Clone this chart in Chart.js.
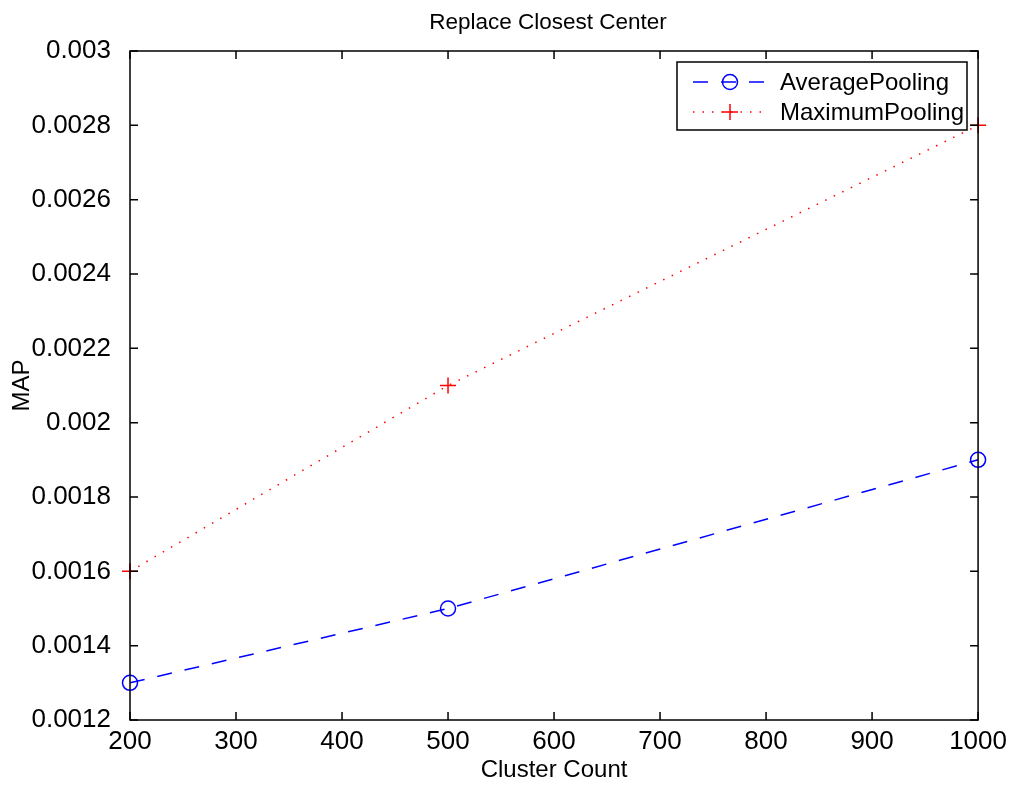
<!DOCTYPE html>
<html>
<head>
<meta charset="utf-8">
<script src="https://cdn.jsdelivr.net/npm/chart.js@4/dist/chart.umd.min.js"></script>
<style>
  html, body { margin:0; padding:0; background:#fff; }
  #wrap { width:1013px; height:787px; }
</style>
</head>
<body>
<div id="wrap"><canvas id="c" width="1013" height="787"></canvas></div>
<script>
// MATLAB-style line plot: MAP vs cluster count

const clusterCounts = [200, 500, 1000];
const averagePooling = [0.0013, 0.0015, 0.0019];
const maximumPooling = [0.0016, 0.0021, 0.0028];
const xTickValues = [200, 300, 400, 500, 600, 700, 800, 900, 1000];
const yTickValues = [0.0012, 0.0014, 0.0016, 0.0018, 0.002, 0.0022, 0.0024, 0.0026, 0.0028, 0.003];

const FONT = "'Liberation Sans', Arial, Helvetica, sans-serif";

function toPoints(xs, ys){
  return xs.map((x,i)=>({x, y:ys[i]}));
}

// frame, inward ticks on all 4 sides, title and legend box
const matlabFrame = {
  id:'matlabFrame',
  afterDraw(chart){
    const ctx = chart.ctx;
    const a = chart.chartArea;
    const xs = chart.scales.x, ys = chart.scales.y;
    const tl = 8;
    ctx.save();
    ctx.strokeStyle = '#000';
    ctx.lineWidth = 1.5;
    ctx.strokeRect(a.left, a.top, a.right-a.left, a.bottom-a.top);
    ctx.beginPath();
    xTickValues.forEach(v=>{
      const px = xs.getPixelForValue(v);
      ctx.moveTo(px, a.bottom); ctx.lineTo(px, a.bottom-tl);
      ctx.moveTo(px, a.top); ctx.lineTo(px, a.top+tl);
    });
    yTickValues.forEach(v=>{
      const py = ys.getPixelForValue(v);
      ctx.moveTo(a.left, py); ctx.lineTo(a.left+tl, py);
      ctx.moveTo(a.right, py); ctx.lineTo(a.right-tl, py);
    });
    ctx.stroke();

    // title
    ctx.fillStyle = '#000';
    ctx.font = '22.5px ' + FONT;
    ctx.textAlign = 'center';
    ctx.textBaseline = 'middle';
    ctx.fillText('Replace Closest Center', 548, 23);

    // legend
    const bx = 677, by = 62, bw = 290, bh = 68;
    ctx.fillStyle = '#fff';
    ctx.fillRect(bx, by, bw, bh);
    ctx.lineWidth = 1.5;
    ctx.strokeStyle = '#000';
    ctx.strokeRect(bx, by, bw, bh);
    chart.data.datasets.forEach((ds,i)=>{
      const yy = 82 + i*30;
      const mx = 730, r = ds.pointRadius;
      ctx.save();
      ctx.strokeStyle = ds.borderColor;
      ctx.lineWidth = ds.borderWidth;
      ctx.setLineDash(ds.borderDash || []);
      ctx.lineDashOffset = ds.legendDashOffset || 0;
      ctx.beginPath();
      ctx.moveTo(693, yy); ctx.lineTo(767, yy);
      ctx.stroke();
      ctx.setLineDash([]);
      ctx.lineWidth = ds.pointBorderWidth;
      ctx.beginPath();
      if (ds.pointStyle === 'circle'){
        ctx.arc(mx, yy, r, 0, Math.PI*2);
      } else {
        ctx.moveTo(mx-r, yy); ctx.lineTo(mx+r, yy);
        ctx.moveTo(mx, yy-r); ctx.lineTo(mx, yy+r);
      }
      ctx.stroke();
      ctx.restore();
      ctx.fillStyle = '#000';
      ctx.font = '24px ' + FONT;
      ctx.textAlign = 'left';
      ctx.textBaseline = 'middle';
      ctx.fillText(ds.label, 780, yy+1);
    });
    ctx.restore();
  }
};

const chart = new Chart(document.getElementById('c'), {
  type:'line',
  data:{
    datasets:[
      {
        label:'AveragePooling',
        data:toPoints(clusterCounts, averagePooling),
        borderColor:'#0000ff',
        borderWidth:1.5,
        borderDash:[15,13],
        legendDashOffset:0,
        pointStyle:'circle',
        pointRadius:7.5,
        pointBorderWidth:1.5,
        pointBorderColor:'#0000ff',
        pointBackgroundColor:'rgba(0,0,0,0)',
        fill:false,
        tension:0,
        clip:false
      },
      {
        label:'MaximumPooling',
        data:toPoints(clusterCounts, maximumPooling),
        borderColor:'#ff0000',
        borderWidth:1.5,
        borderDash:[1.5,8],
        pointStyle:'cross',
        pointRadius:8,
        pointBorderWidth:1.5,
        pointBorderColor:'#ff0000',
        pointBackgroundColor:'rgba(0,0,0,0)',
        fill:false,
        tension:0,
        clip:false
      }
    ]
  },
  options:{
    responsive:false,
    animation:false,
    events:[],
    layout:{ padding:{ top:51, right:34, left:0, bottom:0 } },
    plugins:{
      legend:{ display:false },
      title:{ display:false },
      tooltip:{ enabled:false }
    },
    scales:{
      x:{
        type:'linear',
        min:200, max:1000,
        afterBuildTicks(s){ s.ticks = xTickValues.map(v=>({value:v})); },
        afterFit(s){ s.height = 67; },
        grid:{ display:false, drawTicks:false },
        border:{ display:false },
        ticks:{ color:'#000', font:{ family:FONT, size:26 }, padding:6, maxRotation:0, autoSkip:false,
          callback:v=>String(v) },
        title:{ display:true, text:'Cluster Count', color:'#000', font:{ family:FONT, size:24 }, padding:{top:0, bottom:2} }
      },
      y:{
        type:'linear',
        min:0.0012, max:0.003,
        afterBuildTicks(s){ s.ticks = yTickValues.map(v=>({value:v})); },
        afterFit(s){ s.width = 130; },
        grid:{ display:false, drawTicks:false },
        border:{ display:false },
        ticks:{ color:'#000', font:{ family:FONT, size:26 }, padding:19, autoSkip:false,
          callback:v=>String(parseFloat(Number(v).toFixed(4))) },
        title:{ display:true, text:'MAP', color:'#000', font:{ family:FONT, size:24 }, padding:{top:8, bottom:0} }
      }
    }
  },
  plugins:[matlabFrame]
});
</script>
</body>
</html>
